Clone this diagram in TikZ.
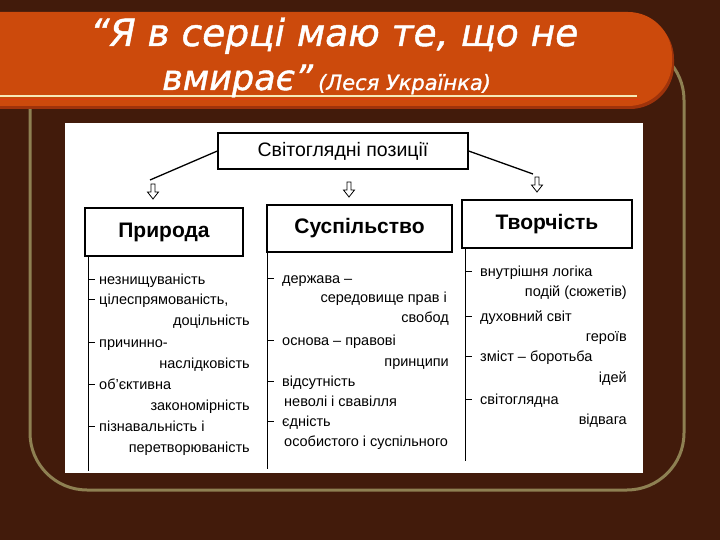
\documentclass[tikz,border=0pt]{standalone}
\usepackage{fontspec}
\setmainfont{Liberation Sans}
\newfontfamily\titlefont[FakeBold=1.2]{DejaVu Sans}
\definecolor{bg}{HTML}{421B0B}
\definecolor{banner}{HTML}{CC4A0C}
\definecolor{bannershadow}{HTML}{9E330B}
\definecolor{olive}{HTML}{8E8052}
\definecolor{cream}{HTML}{F6E9B8}
\definecolor{redline}{HTML}{E03A12}
\tikzset{
  colline/.style={line width=1.4pt, black},
  tickline/.style={line width=1pt, black},
  linkline/.style={line width=1.3pt, black},
  item/.style={inner sep=0pt, anchor=base west, font=\fontsize{14.5}{16}\selectfont},
  itemr/.style={item, anchor=base east},
  hdr/.style={draw, line width=1.4pt, inner sep=0pt, font=\fontsize{21}{24}\selectfont\bfseries},
  topbox/.style={draw, line width=1.3pt, inner sep=0pt, minimum width=250pt, minimum height=36pt, font=\fontsize{19.5}{22}\selectfont},
  titletext/.style={inner sep=0pt, anchor=base west, text=white, font=\titlefont\itshape\fontsize{37.5}{40}\selectfont},
  titletextb/.style={titletext, font=\titlefont\itshape\fontsize{35}{40}\selectfont},
  subtitletext/.style={titletext, font=\titlefont\itshape\fontsize{21}{24}\selectfont},
  hollowdown/.pic={\draw[line width=0.8pt, fill=white] (-2,0) -- (-2,8) -- (-5.5,8) -- (0,15) -- (5.5,8) -- (2,8) -- (2,0) -- cycle;}
}
\begin{document}
\begin{tikzpicture}[x=1pt,y=-1pt]
\useasboundingbox (0,0) rectangle (720,540);
\fill[bg] (0,0) rectangle (720,540);
% frame
\draw[olive, line width=3pt, rounded corners=57pt] (30,43) rectangle (684,490);
% banner
\fill[bannershadow, rounded corners=44pt] (-60,15) rectangle (674,109);
\fill[banner, rounded corners=44pt] (-60,12) rectangle (672,106);
\draw[redline, line width=1.5pt] (0,99.5) -- (640,99.5);
\draw[cream, line width=2.5pt] (0,96) -- (637,96);
% title
\node[titletext] (t1) at (90,46) {“Я в серці маю те, що не};
\node[titletextb] (t2) at (162,90) {вмирає”};
\node[subtitletext] (t3) at (318,90) {(Леся Українка)};
% panel
\fill[white] (65,123) rectangle (643,473);
% top box
\node[topbox] (top) at (343,151) {Світоглядні позиції};
\coordinate (cl) at (150,180);
\coordinate (cr) at (533,174);
\draw[linkline] (top.west) -- (cl);
\draw[linkline] (top.east) -- (cr);
\pic (a1) at (153,184) {hollowdown};
\pic (a2) at (349,182) {hollowdown};
\pic (a3) at (537,177) {hollowdown};
% headers
\node[hdr, minimum width=158pt, minimum height=48pt] (p) at (164,232) {Природа};
\node[hdr, minimum width=185pt, minimum height=47pt] (s) at (359.5,228.5) {Суспільство};
\node[hdr, minimum width=170pt, minimum height=48pt] (t) at (547,224) {Творчість};
% column lines
\draw[colline] ([xshift=4pt]p.south west) -- ++(0,214);
\draw[colline] ([xshift=1pt]s.south west) -- ++(0,216);
\draw[colline] ([xshift=4pt]t.south west) -- ++(0,212);
% left column
\node[item] (l1) at (99,284) {незнищуваність};
\node[item] (l2) at (99,304) {цілеспрямованість,};
\node[itemr] (l3) at (250,325) {доцільність};
\node[item] (l4) at (99,347) {причинно-};
\node[itemr] (l5) at (250,368) {наслідковість};
\node[item] (l6) at (99,389) {об’єктивна};
\node[itemr] (l7) at (250,410) {закономірність};
\node[item] (l8) at (99,431) {пізнавальність і};
\node[itemr] (l9) at (250,452) {перетворюваність};
\foreach \n in {l1,l2,l4,l6,l8}
  \draw[tickline] ([xshift=-10pt,yshift=5pt]\n.base west) -- +(6,0);
% middle column
\node[item] (m1) at (282,283) {держава –};
\node[itemr] (m2) at (447,302) {середовище прав і};
\node[itemr] (m3) at (449,322) {свобод};
\node[item] (m4) at (282,345) {основа – правові};
\node[itemr] (m5) at (449,366) {принципи};
\node[item] (m6) at (282,386) {відсутність};
\node[item] (m7) at (284,406) {неволі і свавілля};
\node[item] (m8) at (282,426) {єдність};
\node[item] (m9) at (284,446) {особистого і суспільного};
\foreach \n in {m1,m4,m6,m8}
  \draw[tickline] ([xshift=-14pt,yshift=5pt]\n.base west) -- +(6,0);
% right column
\node[item] (r1) at (480,276) {внутрішня логіка};
\node[itemr] (r2) at (627,296) {подій (сюжетів)};
\node[item] (r3) at (480,321) {духовний світ};
\node[itemr] (r4) at (627,341) {героїв};
\node[item] (r5) at (480,361) {зміст – боротьба};
\node[itemr] (r6) at (627,382) {ідей};
\node[item] (r7) at (480,404) {світоглядна};
\node[itemr] (r8) at (627,424) {відвага};
\foreach \n in {r1,r3,r5,r7}
  \draw[tickline] ([xshift=-14pt,yshift=5pt]\n.base west) -- +(6,0);
\end{tikzpicture}
\end{document}
